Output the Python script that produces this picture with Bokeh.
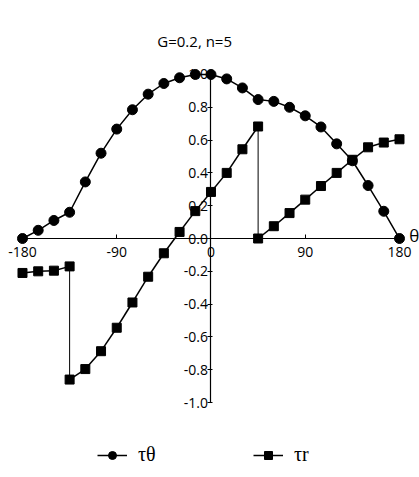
from bokeh.plotting import figure
from bokeh.models import Range1d, FixedTicker, Legend, LegendItem, Label, ColumnDataSource
from bokeh.embed import file_html
from bokeh.resources import INLINE

# ---- data ----
theta = [-180, -165, -150, -135, -120, -105, -90, -75, -60, -45, -30, -15, 0,
         15, 30, 45, 60, 75, 90, 105, 120, 135, 150, 165, 180]
tau_theta = [0.0, 0.05, 0.11, 0.16, 0.345, 0.52, 0.667, 0.785, 0.88, 0.945, 0.98, 1.0, 1.0,
             0.973, 0.918, 0.847, 0.836, 0.80, 0.748, 0.68, 0.577, 0.474, 0.323, 0.166, 0.0]

r_theta = [-180, -165, -150, -135, -135, -120, -105, -90, -75, -60, -45, -30, -15, 0,
           15, 30, 45, 45, 60, 75, 90, 105, 120, 135, 150, 165, 180]
tau_r = [-0.21, -0.20, -0.196, -0.17, -0.86, -0.796, -0.687, -0.544, -0.39, -0.233, -0.09, 0.04, 0.167, 0.284,
         0.40, 0.544, 0.683, 0.0, 0.075, 0.155, 0.237, 0.32, 0.40, 0.48, 0.556, 0.585, 0.605]

x_ticks = [-180, -90, 0, 90, 180]
x_labels = ["-180", "-90", "0", "90", "180"]
y_ticks = [-1.0, -0.8, -0.6, -0.4, -0.2, 0.0, 0.2, 0.4, 0.6, 0.8, 1.0]
y_labels = ["-1.0", "-0.8", "-0.6", "-0.4", "-0.2", "0.0", "0.2", "0.4", "0.6", "0.8", "1.0"]

title_text = "G=0.2, n=5"
series_labels = ["τθ", "τr"]

FONT = "Open Sans"

p = figure(width=419, height=477, output_backend="svg", toolbar_location=None,
           x_range=Range1d(-201.0, 199.1), y_range=Range1d(-1.457, 1.451),
           min_border=0)
p.outline_line_color = None
p.xgrid.visible = False
p.ygrid.visible = False
p.background_fill_color = "white"
p.border_fill_color = "white"

xa = p.xaxis[0]
xa.fixed_location = 0
xa.ticker = FixedTicker(ticks=x_ticks, minor_ticks=[])
xa.major_label_overrides = {t: l for t, l in zip(x_ticks, x_labels)}
xa.bounds = (-180, 180)
xa.major_tick_in = 4
xa.major_tick_out = 0
xa.minor_tick_in = 0
xa.minor_tick_out = 0
xa.major_label_standoff = 8
xa.major_label_text_font = FONT
xa.major_label_text_font_size = "14px"
xa.major_label_text_color = "black"
xa.axis_line_color = "black"
xa.axis_line_width = 1.2
xa.major_tick_line_color = "black"

ya = p.yaxis[0]
ya.fixed_location = 0
ya.ticker = FixedTicker(ticks=y_ticks, minor_ticks=[])
ya.major_label_overrides = {t: l for t, l in zip(y_ticks, y_labels)}
ya.bounds = (-1.0, 1.0)
ya.major_tick_in = 2
ya.major_tick_out = 3
ya.minor_tick_in = 0
ya.minor_tick_out = 0
ya.major_label_standoff = 0
ya.major_label_text_font = FONT
ya.major_label_text_font_size = "14px"
ya.major_label_text_color = "black"
ya.axis_line_color = "black"
ya.axis_line_width = 1.2
ya.major_tick_line_color = "black"

# tau_theta series
l1 = p.line(theta, tau_theta, line_color="black", line_width=1.5)
c1 = p.scatter(theta, tau_theta, marker="circle", size=10, fill_color="black", line_color="black")

# tau_r series: segments, vertical jumps thinner
x0 = r_theta[:-1]
x1 = r_theta[1:]
y0 = tau_r[:-1]
y1 = tau_r[1:]
widths = [1.0 if a == b else 1.5 for a, b in zip(x0, x1)]
seg_src = ColumnDataSource(dict(x0=x0, x1=x1, y0=y0, y1=y1, w=widths))
s2 = p.segment(x0="x0", y0="y0", x1="x1", y1="y1", line_width="w", line_color="black", source=seg_src)
q2 = p.scatter(r_theta, tau_r, marker="square", size=9, fill_color="black", line_color="black")

# title
p.add_layout(Label(x=-15.6, y=1.207, text=title_text, text_align="center", text_baseline="middle",
                   text_font=FONT, text_font_size="15px", text_color="black"))
# theta label at end of x axis
p.add_layout(Label(x=189.3, y=0.02, text="θ", text_align="left", text_baseline="middle",
                   text_font=FONT, text_font_size="17px", text_color="black"))

legend = Legend(items=[LegendItem(label=series_labels[0], renderers=[l1, c1]),
                       LegendItem(label=series_labels[1], renderers=[s2, q2])],
                orientation="horizontal", location=(97, 11),
                glyph_width=30, glyph_height=20, label_standoff=11, spacing=95,
                padding=0, margin=0, border_line_color=None, background_fill_alpha=0,
                label_text_font="Liberation Serif", label_text_font_size="20px",
                label_text_color="black")
p.add_layout(legend)

open("out.html", "w").write(file_html(p, INLINE))
